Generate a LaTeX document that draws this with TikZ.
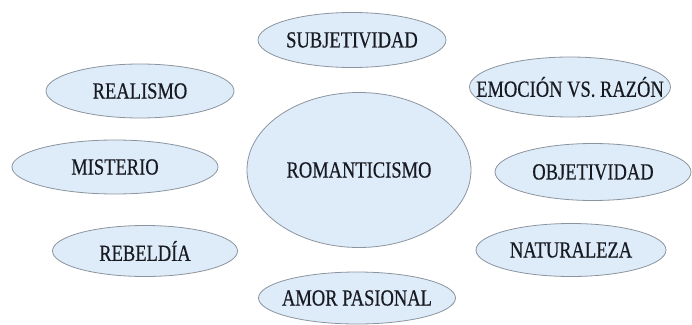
\documentclass[tikz,border=0pt]{standalone}
\usepackage{fontspec}
\usepackage{graphicx}
\setmainfont{Liberation Serif}
\newfontfamily\tagfont{Liberation Serif}[FakeBold=0.5]
\usetikzlibrary{shapes.geometric}

\definecolor{bubblefill}{RGB}{222,236,249}
\definecolor{bubbleline}{RGB}{140,148,158}
\definecolor{bubbletext}{RGB}{24,26,34}

\tikzset{
  bubble/.style={ellipse, draw=bubbleline, fill=bubblefill, line width=0.8pt, inner sep=0pt},
  tag/.style={text=bubbletext, inner sep=0pt, font=\tagfont\fontsize{18.5}{20}\selectfont}
}
\newcommand{\tall}[1]{\scalebox{1}[1.25]{#1}}

\begin{document}
\begin{tikzpicture}[x=1pt, y=-1pt]
        \useasboundingbox (0,0) rectangle (692,324);

        % Centre
        \node[bubble, minimum width=224pt, minimum height=155pt] (roman) at (359,170) {};
        \node[tag] at (roman) {\tall{ROMANTICISMO}};

        % Top row
        \node[bubble, minimum width=188pt, minimum height=55pt] (subj) at (352,40) {};
        \node[tag] at (subj) {\tall{SUBJETIVIDAD}};
        \node[bubble, minimum width=188pt, minimum height=54pt] (real) at (140,91) {};
        \node[tag] at (real) {\tall{REALISMO}};
        \node[bubble, minimum width=201pt, minimum height=60pt] (emoc) at (570,87) {};
        \node[tag] at (emoc) {\tall{EMOCIÓN VS. RAZÓN}};

        % Middle row
        \node[bubble, minimum width=206pt, minimum height=54pt] (mist) at (115,167) {};
        \node[tag] at (mist) {\tall{MISTERIO}};
        \node[bubble, minimum width=196pt, minimum height=57pt] (obj) at (593,172) {};
        \node[tag] at (obj) {\tall{OBJETIVIDAD}};

        % Bottom row
        \node[bubble, minimum width=185pt, minimum height=51pt] (rebel) at (145,251) {};
        \node[tag] at (rebel) {\tall{REBELDÍA}};
        \node[bubble, minimum width=190pt, minimum height=53pt] (natur) at (571,250) {};
        \node[tag] at (natur) {\tall{NATURALEZA}};
        \node[bubble, minimum width=197pt, minimum height=52pt] (amor) at (357,298) {};
        \node[tag] at (amor) {\tall{AMOR PASIONAL}};
      \end{tikzpicture}
\end{document}
